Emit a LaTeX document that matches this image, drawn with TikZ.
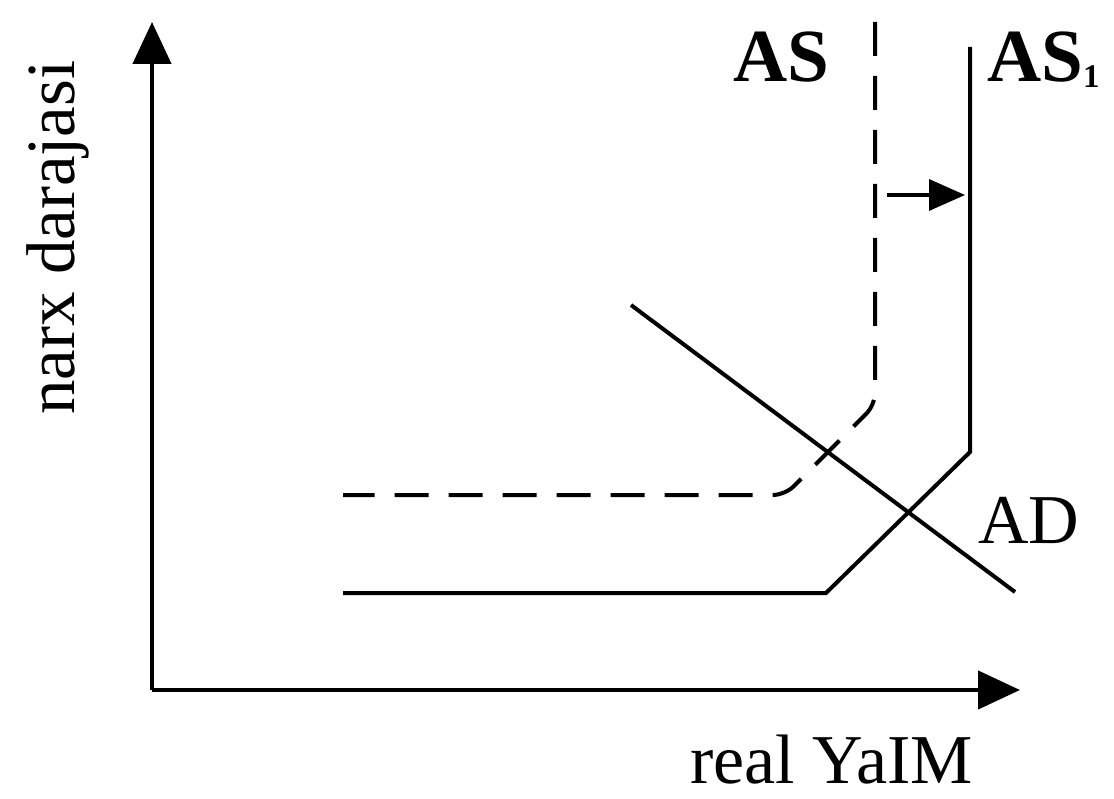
\documentclass[tikz,border=0pt]{standalone}
\usepackage{fontspec}
\setmainfont{Liberation Serif}
\usetikzlibrary{arrows.meta}
\begin{document}
\begin{tikzpicture}[x=1pt,y=-1pt,
  axis/.style={line width=4.5pt,-{Triangle[length=42pt,width=38pt]}},
  curve/.style={line width=4pt},
  dcurve/.style={line width=4pt,dash pattern=on 34pt off 20pt,rounded corners=12pt},
  shiftarrow/.style={line width=3.5pt,-{Triangle[length=36pt,width=31pt]}},
  lbl/.style={inner sep=0pt,anchor=base west}]
\useasboundingbox (0,0) rectangle (1114,799);
% axes
\coordinate (O) at (152,690);
\coordinate (Ytip) at (152,22);
\coordinate (Xtip) at (1020,690);
\draw[axis] (O) -- (Ytip);
\draw[axis] (O) -- (Xtip);
% AS1 solid
\coordinate (s1) at (343,593);
\coordinate (s2) at (826,593);
\coordinate (s3) at (970,452);
\coordinate (s4) at (970,47);
\draw[curve] (s1) -- (s2) -- (s3) -- (s4);
% AS dashed
\coordinate (d1) at (343,495);
\coordinate (d2) at (785,495);
\coordinate (d3) at (875,405);
\coordinate (d4) at (875,22);
\draw[dcurve] (d4) -- (d3) -- (d2) -- (d1);
% AD
\coordinate (a1) at (631,305);
\coordinate (a2) at (1015,592);
\draw[curve] (a1) -- (a2);
% shift arrow
\coordinate (h1) at (887,195);
\coordinate (h2) at (965,195);
\draw[shiftarrow] (h1) -- (h2);
% labels
\node[lbl,font=\fontsize{75}{80}\selectfont\bfseries] (lAS) at (733,82) {AS};
\node[lbl,font=\fontsize{75}{80}\selectfont\bfseries] (lAS1) at (987,82) {AS\raisebox{-6pt}{\fontsize{33}{33}\selectfont 1}};
\node[lbl,font=\fontsize{70}{75}\selectfont] (lAD) at (978,543) {AD};
\node[lbl,font=\fontsize{70}{75}\selectfont] (lx) at (690,783) {real YaIM};
\node[lbl,rotate=90,font=\fontsize{69}{75}\selectfont] (ly) at (74,415) {narx darajasi};
\end{tikzpicture}
\end{document}
